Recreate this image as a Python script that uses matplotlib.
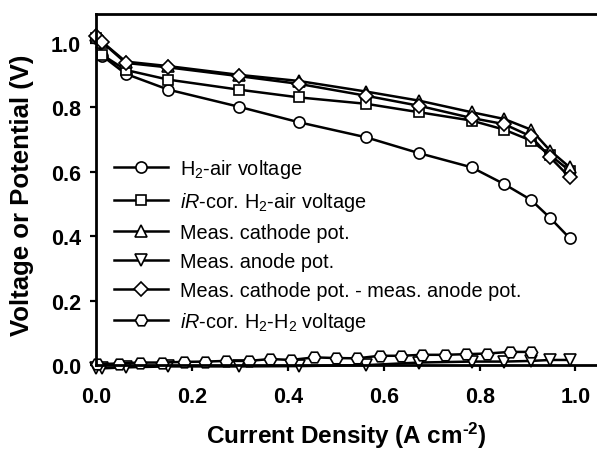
import matplotlib
matplotlib.use("Agg")
import matplotlib.pyplot as plt

plt.rcParams.update({
    "font.family": ["Liberation Sans", "DejaVu Sans"],
    "mathtext.fontset": "custom",
    "mathtext.rm": "Liberation Sans",
    "mathtext.it": "Liberation Sans:italic",
    "mathtext.bf": "Liberation Sans:bold",
})

# densidad de corriente común (A cm-2)
j = [0.0, 0.012, 0.061, 0.150, 0.297, 0.422, 0.563, 0.673, 0.783, 0.851, 0.907, 0.947, 0.988]

v_air = [1.015, 0.960, 0.904, 0.855, 0.802, 0.754, 0.707, 0.658, 0.614, 0.562, 0.513, 0.457, 0.394]
v_air_ir = [1.015, 0.963, 0.916, 0.886, 0.855, 0.831, 0.811, 0.785, 0.759, 0.731, 0.697, 0.652, 0.603]
cathode = [1.025, 1.003, 0.942, 0.928, 0.901, 0.882, 0.849, 0.821, 0.785, 0.764, 0.731, 0.666, 0.614]
anode = [-0.010, -0.010, -0.007, -0.004, -0.004, -0.003, 0.000, 0.008, 0.011, 0.011, 0.013, 0.016, 0.016]
cath_minus_an = [1.023, 1.002, 0.938, 0.924, 0.897, 0.873, 0.836, 0.805, 0.767, 0.748, 0.710, 0.645, 0.583]

# H2-H2 corregido por iR (otra malla de corriente)
j_h2 = [0.002, 0.047, 0.090, 0.136, 0.182, 0.227, 0.270, 0.318, 0.363, 0.406, 0.455,
        0.500, 0.544, 0.591, 0.635, 0.680, 0.727, 0.772, 0.816, 0.863, 0.908]
v_h2 = [0.003, 0.005, 0.008, 0.008, 0.010, 0.011, 0.013, 0.013, 0.019, 0.016, 0.024,
        0.022, 0.021, 0.029, 0.029, 0.032, 0.032, 0.034, 0.036, 0.041, 0.041]

series = [
    (j, v_air, "o", r"H$_2$-air voltage"),
    (j, v_air_ir, "s", r"$\mathit{iR}$-cor. H$_2$-air voltage"),
    (j, cathode, "^", "Meas. cathode pot."),
    (j, anode, "v", "Meas. anode pot."),
    (j, cath_minus_an, "D", "Meas. cathode pot. - meas. anode pot."),
    (j_h2, v_h2, "H", r"$\mathit{iR}$-cor. H$_2$-H$_2$ voltage"),
]
sizes = {"o": 8.0, "s": 7.4, "^": 8.2, "v": 8.2, "D": 6.8, "H": 8.8}

fig = plt.figure(figsize=(5.97, 4.52), dpi=100)
ax = fig.add_axes([0.1616, 0.190, 0.8384, 0.777])

for x, y, m, lab in series:
    ax.plot(x, y, "-", color="black", lw=1.8, marker=m, ms=sizes[m],
            mfc="white", mec="black", mew=1.2, label=lab, clip_on=False)

ax.set_xlim(0, 1.045)
ax.set_ylim(0, 1.09)
ax.set_xticks([0.0, 0.2, 0.4, 0.6, 0.8, 1.0])
ax.set_yticks([0.0, 0.2, 0.4, 0.6, 0.8, 1.0])
ax.set_xticklabels([f"{t:.1f}" for t in ax.get_xticks()])
ax.set_yticklabels([f"{t:.1f}" for t in ax.get_yticks()])

for s in ["left", "bottom", "top"]:
    ax.spines[s].set_linewidth(2.0)
ax.spines["right"].set_visible(False)
ax.tick_params(axis="both", direction="out", length=4, width=1.6,
               labelsize=15.5)
ax.tick_params(axis="x", pad=11)
ax.tick_params(axis="y", pad=7)
for t in ax.get_xticklabels() + ax.get_yticklabels():
    t.set_fontweight("bold")

ax.set_xlabel("Current Density (A cm$^{\\mathbf{\u20102}}$)", fontsize=17.5,
              fontweight="bold", labelpad=9)
ax.set_ylabel("Voltage or Potential (V)", fontsize=18.5, fontweight="bold")
ax.yaxis.set_label_coords(-0.124, 0.486)

ax.legend(loc="center left", bbox_to_anchor=(0.036, 0.342), frameon=False,
          fontsize=14.3, handlelength=2.7, handletextpad=0.6,
          labelspacing=0.5, borderpad=0, borderaxespad=0)

fig.savefig("out.png", dpi=100)
